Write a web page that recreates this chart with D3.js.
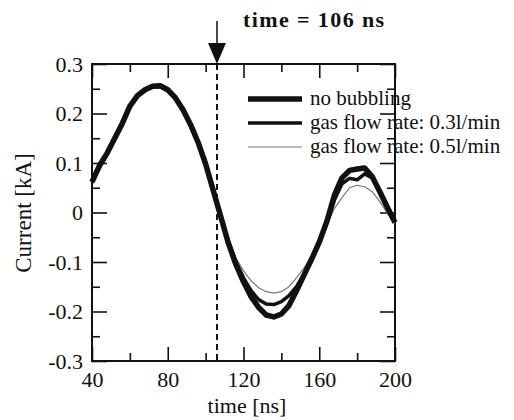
<!DOCTYPE html>
<html>
<head>
<meta charset="utf-8">
<script src="https://cdn.jsdelivr.net/npm/d3@7"></script>
<style>
  body { margin: 0; background: #fff; }
  svg { display: block; font-family: "Liberation Serif", "DejaVu Serif", serif; }
</style>
</head>
<body>
<svg width="514" height="420"></svg>
<script>
"use strict";

// time axis samples [ns]
const times = [40, 44, 48, 52, 56, 60, 64, 68, 72, 76, 80, 84, 88, 92, 96, 100, 104, 108, 112, 116,
  120, 124, 128, 132, 136, 140, 144, 148, 152, 156, 160, 164, 168, 172, 176, 180, 184, 188, 192, 196, 200];

// current [kA]
const noBubbling = [0.062, 0.095, 0.120, 0.150, 0.180, 0.215, 0.236, 0.248, 0.255, 0.256, 0.248, 0.232,
  0.208, 0.178, 0.142, 0.098, 0.045, -0.008, -0.062, -0.105, -0.140, -0.170, -0.192, -0.207, -0.211,
  -0.205, -0.188, -0.158, -0.126, -0.094, -0.060, -0.018, 0.035, 0.070, 0.085, 0.088, 0.090, 0.072,
  0.042, 0.010, -0.020];
const flow03 = [0.060, 0.093, 0.118, 0.150, 0.182, 0.213, 0.235, 0.249, 0.254, 0.254, 0.246, 0.230,
  0.205, 0.176, 0.140, 0.096, 0.044, -0.008, -0.058, -0.100, -0.132, -0.158, -0.176, -0.185, -0.186,
  -0.180, -0.168, -0.150, -0.124, -0.094, -0.060, -0.022, 0.025, 0.058, 0.069, 0.066, 0.078, 0.070,
  0.042, 0.010, -0.020];
const flow05 = [0.060, 0.093, 0.120, 0.152, 0.183, 0.214, 0.236, 0.248, 0.252, 0.252, 0.246, 0.231,
  0.207, 0.178, 0.142, 0.098, 0.046, -0.005, -0.052, -0.092, -0.118, -0.138, -0.152, -0.160, -0.163,
  -0.160, -0.150, -0.132, -0.112, -0.088, -0.058, -0.025, 0.008, 0.030, 0.050, 0.055, 0.052, 0.042,
  0.022, -0.002, -0.022];

const legendLabels = ["no bubbling", "gas flow rate: 0.3l/min", "gas flow rate: 0.5l/min"];
const xTicks = [40, 80, 120, 160, 200];
const xMinor = [60, 100, 140, 180];
const yTicks = [-0.3, -0.2, -0.1, 0, 0.1, 0.2, 0.3];
const yTickLabels = ["-0.3", "-0.2", "-0.1", "0", "0.1", "0.2", "0.3"];
const yMinor = [-0.25, -0.15, -0.05, 0.05, 0.15, 0.25];
const markTime = 106;

const svg = d3.select("svg");
const pL = 92, pR = 395, pT = 64, pB = 361;

const x = d3.scaleLinear().domain([40, 200]).range([pL, pR]);
const y = d3.scaleLinear().domain([-0.3, 0.3]).range([pB, pT]);

// frame with inward ticks on all four sides
function tickAxis(axis, tr, vals, size, fmt) {
  const g = svg.append("g").attr("transform", tr)
    .call(axis.tickValues(vals).tickSize(size).tickSizeOuter(0).tickFormat(fmt || ""));
  g.select(".domain").remove();
  g.selectAll(".tick line").attr("stroke", "#111").attr("stroke-width", 1.6);
  g.selectAll("text").attr("font-size", 22).attr("fill", "#111").attr("font-family", "Liberation Serif");
  return g;
}
const bx = tickAxis(d3.axisBottom(x), `translate(0,${pB})`, xTicks, -14, d => String(d));
bx.selectAll("text").attr("y", 10).attr("dy", "0.71em");
tickAxis(d3.axisBottom(x), `translate(0,${pB})`, xMinor, -8);
tickAxis(d3.axisTop(x), `translate(0,${pT})`, xTicks, -14);
tickAxis(d3.axisTop(x), `translate(0,${pT})`, xMinor, -8);
const ly = tickAxis(d3.axisLeft(y), `translate(${pL},0)`, yTicks, -15, (d, i) => yTickLabels[i]);
ly.selectAll("text").attr("x", -9);
tickAxis(d3.axisLeft(y), `translate(${pL},0)`, yMinor, -8);
tickAxis(d3.axisRight(y), `translate(${pR},0)`, yTicks, -15);
tickAxis(d3.axisRight(y), `translate(${pR},0)`, yMinor, -8);

svg.append("rect")
  .attr("x", pL).attr("y", pT)
  .attr("width", pR - pL).attr("height", pB - pT)
  .attr("fill", "none").attr("stroke", "#111").attr("stroke-width", 2);

// curves
const line = d3.line().x((d, i) => x(times[i])).y(d => y(d));
const series = [
  { values: flow05, color: "#777", width: 1.2 },
  { values: flow03, color: "#111", width: 3.5 },
  { values: noBubbling, color: "#111", width: 5.5 }
];
series.forEach(s => {
  svg.append("path")
    .attr("d", line(s.values))
    .attr("fill", "none")
    .attr("stroke", s.color)
    .attr("stroke-width", s.width)
    .attr("stroke-linejoin", "round");
});

// dashed marker at 106 ns with arrow
const mx = x(markTime);
svg.append("line")
  .attr("x1", mx).attr("x2", mx)
  .attr("y1", pT).attr("y2", pB)
  .attr("stroke", "#111").attr("stroke-width", 2)
  .attr("stroke-dasharray", "6,4");
svg.append("line")
  .attr("x1", mx).attr("x2", mx)
  .attr("y1", 21).attr("y2", 46)
  .attr("stroke", "#111").attr("stroke-width", 1.5);
svg.append("path")
  .attr("d", `M${mx - 9},43 L${mx + 9},43 L${mx},64 Z`)
  .attr("fill", "#111");
svg.append("text")
  .attr("x", 243).attr("y", 27)
  .attr("font-size", 22).attr("font-weight", "bold").attr("fill", "#111")
  .attr("letter-spacing", 1.4)
  .text("time = " + markTime + " ns");

// legend
const legendW = [5.5, 3.5, 1.2];
const legendC = ["#111", "#111", "#777"];
legendLabels.forEach((lab, i) => {
  const ly0 = 99 + i * 24;
  svg.append("line")
    .attr("x1", 248).attr("x2", 302)
    .attr("y1", ly0).attr("y2", ly0)
    .attr("stroke", legendC[i]).attr("stroke-width", legendW[i]);
  svg.append("text")
    .attr("x", 310).attr("y", ly0 + 6)
    .attr("font-size", 21).attr("fill", "#111")
    .text(lab);
});

// axis titles
svg.append("text")
  .attr("x", 247).attr("y", 413)
  .attr("text-anchor", "middle").attr("font-size", 22).attr("fill", "#111")
  .text("time [ns]");
svg.append("text")
  .attr("transform", "translate(31,213) rotate(-90)")
  .attr("text-anchor", "middle").attr("font-size", 23).attr("fill", "#111")
  .text("Current [kA]");
</script>
</body>
</html>
